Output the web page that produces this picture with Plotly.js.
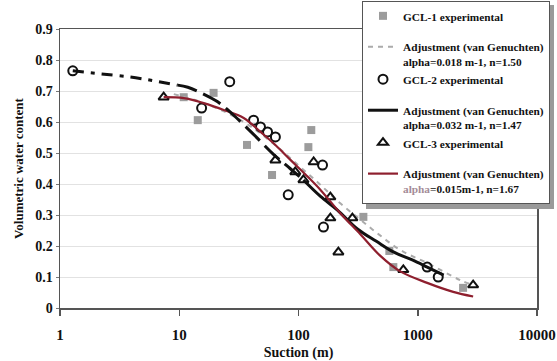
<!DOCTYPE html>
<html>
<head>
<meta charset="utf-8">
<script src="https://cdn.plot.ly/plotly-3.0.1.min.js"></script>
<style>html,body{margin:0;padding:0;background:#fff;}#chart{width:557px;height:361px;}</style>
</head>
<body>
<div id="chart"></div>
<script>
// GCL-1 experimental (suction m, volumetric water content)
const gcl1X = [10.9, 14.3, 19.4, 37, 60, 121, 128, 350, 578, 624, 2400];
const gcl1Y = [0.68, 0.606, 0.694, 0.526, 0.429, 0.519, 0.574, 0.294, 0.184, 0.132, 0.065];
// GCL-1 van Genuchten adjustment
const gcl1FitX = [9, 15, 25, 40, 64, 100, 150, 220, 330, 480, 714, 1200, 2270, 2760];
const gcl1FitY = [0.69, 0.665, 0.63, 0.585, 0.525, 0.46, 0.4, 0.34, 0.285, 0.235, 0.187, 0.145, 0.09, 0.077];
// GCL-2 experimental
const gcl2X = [1.28, 15.4, 26.5, 42, 48, 55, 64, 82, 159, 162, 1200, 1485];
const gcl2Y = [0.765, 0.645, 0.73, 0.606, 0.584, 0.568, 0.552, 0.365, 0.461, 0.261, 0.132, 0.10];
// GCL-2 adjustment
const gcl2FitX = [1.28, 2.2, 3.9, 6.1, 9.7, 11.8, 16, 21, 28, 42, 62, 85, 110, 153, 212, 312, 450, 624, 900, 1200, 1650];
const gcl2FitY = [0.765, 0.755, 0.745, 0.733, 0.719, 0.712, 0.69, 0.665, 0.625, 0.56, 0.495, 0.45, 0.413, 0.36, 0.316, 0.255, 0.215, 0.181, 0.155, 0.132, 0.106];
// GCL-3 experimental
const gcl3X = [7.4, 64, 94, 110, 134, 185, 185, 216, 283, 757, 2914];
const gcl3Y = [0.68, 0.477, 0.439, 0.413, 0.471, 0.358, 0.29, 0.18, 0.29, 0.123, 0.074];
// GCL-3 adjustment
const gcl3FitX = [7.4, 10.9, 16, 23.6, 34.7, 48, 64, 86, 115, 153, 224, 330, 486, 714, 1200, 1983, 2914];
const gcl3FitY = [0.68, 0.677, 0.661, 0.639, 0.613, 0.568, 0.526, 0.477, 0.43, 0.381, 0.306, 0.238, 0.168, 0.118, 0.081, 0.052, 0.037];

const names = [
  'GCL-1 experimental',
  'Adjustment (van Genuchten)<br>alpha=0.018 m-1, n=1.50',
  'GCL-2 experimental',
  'Adjustment (van Genuchten)<br>alpha=0.032 m-1, n=1.47',
  'GCL-3 experimental',
  'Adjustment (van Genuchten)<br><span style="color:#a48c98">alpha</span>=0.015m-1, n=1.67'
];
const xTicks = [1, 10, 100, 1000, 10000];
const xTickText = ['1', '10', '100', '1000', '10000'];
const yTicks = [0, 0.1, 0.2, 0.3, 0.4, 0.5, 0.6, 0.7, 0.8, 0.9];
const yTickText = ['0', '0.1', '0.2', '0.3', '0.4', '0.5', '0.6', '0.7', '0.8', '0.9'];

const serif = 'Liberation Serif, Times New Roman, serif';
const splitA = 4, splitB = 12;

const traces = [
  {x: gcl1X, y: gcl1Y, name: names[0], legendgroup: 'g1', mode: 'markers', type: 'scatter',
   marker: {symbol: 'square', size: 8, color: '#9c9c9c'}},
  {x: gcl1FitX, y: gcl1FitY, name: names[1], legendgroup: 'g2', mode: 'lines', type: 'scatter',
   line: {color: '#ababab', width: 2, dash: '5px,5px', shape: 'spline'}},
  {x: gcl2X, y: gcl2Y, name: names[2], legendgroup: 'g2', mode: 'markers', type: 'scatter',
   marker: {symbol: 'circle-open', size: 9, color: '#111', line: {width: 2, color: '#111'}}},
  {x: gcl2FitX.slice(splitB), y: gcl2FitY.slice(splitB), name: names[3], legendgroup: 'g3', mode: 'lines', type: 'scatter',
   line: {color: '#111', width: 3, shape: 'spline'}},
  {x: gcl3X, y: gcl3Y, name: names[4], legendgroup: 'g3', mode: 'markers', type: 'scatter',
   marker: {symbol: 'triangle-up-open', size: 9, color: '#111', line: {width: 2, color: '#111'}}},
  {x: gcl3FitX, y: gcl3FitY, name: names[5], legendgroup: 'g4', mode: 'lines', type: 'scatter',
   line: {color: '#8e1f2e', width: 2.2, shape: 'spline'}},
  {x: gcl2FitX.slice(0, splitA + 1), y: gcl2FitY.slice(0, splitA + 1), showlegend: false,
   mode: 'lines', type: 'scatter', line: {color: '#111', width: 3, dash: '11px,7px,4px,7px', shape: 'spline'}},
  {x: gcl2FitX.slice(splitA, splitB + 1), y: gcl2FitY.slice(splitA, splitB + 1), showlegend: false,
   mode: 'lines', type: 'scatter', line: {color: '#111', width: 3, dash: '20px,7px', shape: 'spline'}}
];

// legend drop shadow (pixel box converted to paper coordinates)
const px2x = p => (p - 60) / 477;
const px2y = p => (308 - p) / 279;

const layout = {
  width: 557, height: 361,
  margin: {l: 60, r: 20, t: 29, b: 53, autoexpand: false},
  paper_bgcolor: '#fff', plot_bgcolor: '#fff',
  font: {family: serif, color: '#111', weight: 'bold'},
  showlegend: true,
  legend: {
    x: px2x(362), y: px2y(1), xanchor: 'left', yanchor: 'top',
    bgcolor: '#fff', bordercolor: '#555', borderwidth: 1,
    font: {family: serif, size: 11.3, color: '#111', weight: 'bold'},
    traceorder: 'grouped', tracegroupgap: 12, valign: 'top', maxheight: 400
  },
  shapes: [
    {type: 'rect', xref: 'paper', yref: 'paper', layer: 'above',
     x0: px2x(366), x1: px2x(554), y0: px2y(5), y1: px2y(209),
     fillcolor: '#9a9a9a', line: {width: 0}}
  ],
  xaxis: {
    type: 'log', range: [0, 4],
    tickmode: 'array', tickvals: xTicks, ticktext: xTickText,
    ticks: 'outside', ticklen: 6, tickcolor: '#555', tickwidth: 1.5,
    ticklabelstandoff: 6,
    showgrid: false, zeroline: false,
    showline: true, linecolor: '#555', linewidth: 1.5, mirror: true,
    tickfont: {family: serif, size: 15, color: '#111', weight: 'bold'},
    title: {text: 'Suction (m)', font: {family: serif, size: 14, color: '#111', weight: 'bold'}, standoff: 6}
  },
  yaxis: {
    range: [0, 0.9],
    tickmode: 'array', tickvals: yTicks, ticktext: yTickText,
    ticks: 'outside', ticklen: 3, tickcolor: '#777', tickwidth: 1,
    showgrid: true, gridcolor: '#e2e2e2', gridwidth: 1, zeroline: false,
    showline: true, linecolor: '#555', linewidth: 1.5, mirror: true,
    tickfont: {family: serif, size: 14, color: '#111', weight: 'bold'},
    title: {text: 'Volumetric water content', font: {family: serif, size: 13, color: '#111', weight: 'bold'}, standoff: 8}
  }
};

Plotly.newPlot('chart', traces, layout, {displayModeBar: false, staticPlot: true});
</script>
</body>
</html>
